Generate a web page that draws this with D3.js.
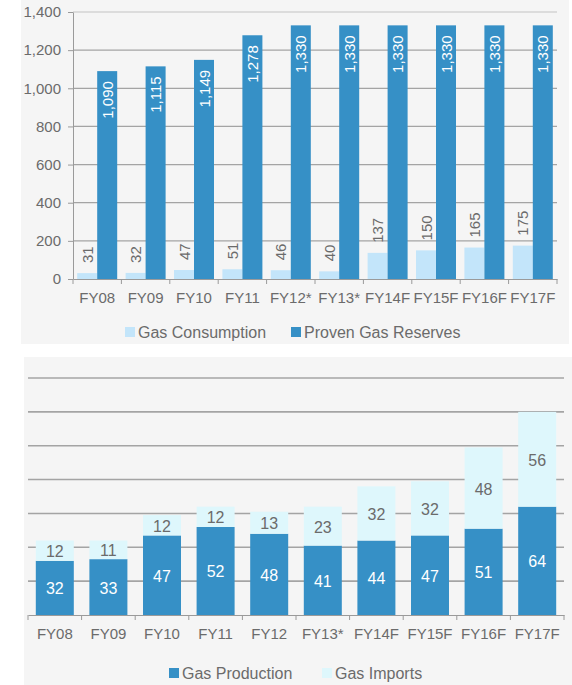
<!DOCTYPE html>
<html>
<head>
<meta charset="utf-8">
<script src="https://cdn.jsdelivr.net/npm/d3@7"></script>
<style>
  html, body { margin: 0; padding: 0; background: #ffffff; }
  svg { display: block; font-family: "Liberation Sans", Arial, sans-serif; }
</style>
</head>
<body>
<svg id="chart" width="572" height="685"></svg>
<script>
// Gas consumption vs proven reserves
const topCategories = ["FY08", "FY09", "FY10", "FY11", "FY12*", "FY13*", "FY14F", "FY15F", "FY16F", "FY17F"];
const gasConsumption = [31, 32, 47, 51, 46, 40, 137, 150, 165, 175];
const provenReserves = [1090, 1115, 1149, 1278, 1330, 1330, 1330, 1330, 1330, 1330];
const topTicks = [0, 200, 400, 600, 800, 1000, 1200, 1400];

// Gas production and imports (stacked)
const bottomCategories = ["FY08", "FY09", "FY10", "FY11", "FY12", "FY13*", "FY14F", "FY15F", "FY16F", "FY17F"];
const gasProduction = [32, 33, 47, 52, 48, 41, 44, 47, 51, 64];
const gasImports = [12, 11, 12, 12, 13, 23, 32, 32, 48, 56];
const bottomGrid = [0, 20, 40, 60, 80, 100, 120, 140];

const DARK = "#3690c6";
const LIGHT = "#c3e5fa";
const PALE = "#def7fc";
const TEXT = "#6b6b6b";
const GRID = "#a4a4a4";

const svg = d3.select("#chart");

// ---------- Top panel ----------
svg.append("rect").attr("x", 21).attr("y", 0).attr("width", 548).attr("height", 344).attr("fill", "#f5f5f5");

const yTop = d3.scaleLinear().domain([0, 1400]).range([279, 12]);
const xTop = d3.scaleBand().domain(topCategories).range([73, 557]).padding(0);
const tbw = xTop.bandwidth();
const tBar = 20;
const tOff = (tbw - 2 * tBar) / 2;

const gTop = svg.append("g");
// gridlines
gTop.selectAll("line.grid").data(topTicks.filter(d => d > 0)).join("line")
  .attr("x1", 73).attr("x2", 557)
  .attr("y1", d => yTop(d)).attr("y2", d => yTop(d))
  .attr("stroke", d => d === 1400 ? "#c4c4c4" : GRID).attr("stroke-width", 1.2);

// y axis
const yAxisTop = d3.axisLeft(yTop).tickValues(topTicks).tickFormat(d3.format(",")).tickSize(5).tickSizeOuter(0);
const gy = gTop.append("g").attr("transform", "translate(73,0)").call(yAxisTop);
gy.select(".domain").attr("stroke", "#9a9a9a");
gy.selectAll(".tick line").attr("stroke", "#9a9a9a");
gy.selectAll(".tick text").attr("fill", TEXT).attr("font-size", 15).attr("x", -12)
  .attr("font-family", "Liberation Sans, Arial, sans-serif");

// bars
gTop.selectAll("rect.cons").data(gasConsumption).join("rect")
  .attr("x", (d, i) => xTop(topCategories[i]) + tOff)
  .attr("y", d => yTop(d)).attr("width", tBar).attr("height", d => yTop(0) - yTop(d))
  .attr("fill", LIGHT);
gTop.selectAll("rect.res").data(provenReserves).join("rect")
  .attr("x", (d, i) => xTop(topCategories[i]) + tOff + tBar)
  .attr("y", d => yTop(d)).attr("width", tBar).attr("height", d => yTop(0) - yTop(d))
  .attr("fill", DARK);

// x axis
const xAxisTop = d3.axisBottom(xTop).tickSize(0).tickSizeOuter(0);
const gx = gTop.append("g").attr("transform", "translate(0,279)").call(xAxisTop);
gx.select(".domain").attr("stroke", "#9a9a9a");
gx.selectAll(".tick text").attr("fill", TEXT).attr("font-size", 15).attr("dy", 0).attr("y", 24)
  .attr("font-family", "Liberation Sans, Arial, sans-serif");
gTop.selectAll("line.btick").data(d3.range(topCategories.length + 1)).join("line")
  .attr("x1", i => 73 + i * tbw).attr("x2", i => 73 + i * tbw)
  .attr("y1", 279).attr("y2", 284).attr("stroke", "#9a9a9a");

// rotated value labels
gTop.selectAll("text.resLbl").data(provenReserves).join("text")
  .attr("transform", (d, i) => `translate(${xTop(topCategories[i]) + tOff + tBar * 1.5},${yTop(d) + 10}) rotate(-90)`)
  .attr("text-anchor", "end").attr("dominant-baseline", "central")
  .attr("fill", "#ffffff").attr("font-size", 15)
  .text(d => d3.format(",")(d));
gTop.selectAll("text.consLbl").data(gasConsumption).join("text")
  .attr("transform", (d, i) => `translate(${xTop(topCategories[i]) + tOff + tBar * 0.5},${yTop(d) - 10}) rotate(-90)`)
  .attr("text-anchor", "start").attr("dominant-baseline", "central")
  .attr("fill", TEXT).attr("font-size", 15)
  .text(d => d);

// legend
const topLegend = [{ label: "Gas Consumption", color: LIGHT, x: 125 }, { label: "Proven Gas Reserves", color: DARK, x: 291 }];
const lt = gTop.selectAll("g.leg").data(topLegend).join("g").attr("transform", d => `translate(${d.x},327)`);
lt.append("rect").attr("width", 10).attr("height", 10).attr("fill", d => d.color);
lt.append("text").attr("x", 13).attr("y", 5).attr("dominant-baseline", "central")
  .attr("fill", TEXT).attr("font-size", 16).text(d => d.label);

// ---------- Bottom panel ----------
svg.append("rect").attr("x", 24).attr("y", 357).attr("width", 548).attr("height", 328).attr("fill", "#f5f5f5");

const yBot = d3.scaleLinear().domain([0, 140]).range([615, 378]);
const xBot = d3.scaleBand().domain(bottomCategories).range([28, 564]).padding(0);
const bbw = xBot.bandwidth();
const bBar = 38;
const bOff = (bbw - bBar) / 2;

const gBot = svg.append("g");
gBot.selectAll("line.grid").data(bottomGrid.filter(d => d > 0)).join("line")
  .attr("x1", 28).attr("x2", 564)
  .attr("y1", d => yBot(d)).attr("y2", d => yBot(d))
  .attr("stroke", GRID).attr("stroke-width", 1.6);

const stacked = d3.stack().keys(["production", "imports"])(
  bottomCategories.map((c, i) => ({ cat: c, production: gasProduction[i], imports: gasImports[i] }))
);
const stackColors = [DARK, PALE];
stacked.forEach((layer, li) => {
  gBot.selectAll(`rect.s${li}`).data(layer).join("rect")
    .attr("x", d => xBot(d.data.cat) + bOff)
    .attr("y", d => yBot(d[1]))
    .attr("width", bBar)
    .attr("height", d => yBot(d[0]) - yBot(d[1]))
    .attr("fill", stackColors[li]);
  gBot.selectAll(`text.s${li}`).data(layer).join("text")
    .attr("x", d => xBot(d.data.cat) + bbw / 2)
    .attr("y", d => (yBot(d[0]) + yBot(d[1])) / 2 + 1)
    .attr("text-anchor", "middle").attr("dominant-baseline", "central")
    .attr("fill", li === 0 ? "#ffffff" : TEXT).attr("font-size", 16)
    .text(d => d[1] - d[0]);
});

const xAxisBot = d3.axisBottom(xBot).tickSize(0).tickSizeOuter(0);
const gxb = gBot.append("g").attr("transform", "translate(0,615)").call(xAxisBot);
gxb.select(".domain").attr("stroke", "#9a9a9a").attr("stroke-width", 1.2);
gxb.selectAll(".tick text").attr("fill", TEXT).attr("font-size", 15).attr("dy", 0).attr("y", 24)
  .attr("font-family", "Liberation Sans, Arial, sans-serif");
gBot.selectAll("line.btick").data(d3.range(bottomCategories.length + 1)).join("line")
  .attr("x1", i => 28 + i * bbw).attr("x2", i => 28 + i * bbw)
  .attr("y1", 615).attr("y2", 620).attr("stroke", "#9a9a9a");

const botLegend = [{ label: "Gas Production", color: DARK, x: 169 }, { label: "Gas Imports", color: PALE, x: 322 }];
const lb = gBot.selectAll("g.leg").data(botLegend).join("g").attr("transform", d => `translate(${d.x},668)`);
lb.append("rect").attr("width", 10).attr("height", 10).attr("fill", d => d.color);
lb.append("text").attr("x", 13).attr("y", 5).attr("dominant-baseline", "central")
  .attr("fill", TEXT).attr("font-size", 16).text(d => d.label);
</script>
</body>
</html>
